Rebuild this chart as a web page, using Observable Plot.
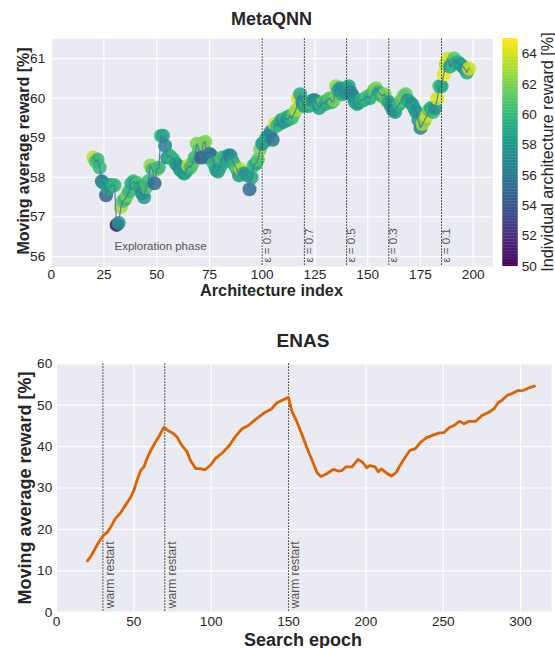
<!DOCTYPE html>
<html>
<head>
<meta charset="utf-8">
<script src="https://cdn.jsdelivr.net/npm/d3@7"></script>
<script src="https://cdn.jsdelivr.net/npm/@observablehq/plot@0.6"></script>
<style>
  body { margin: 0; background: #fff; font-family: "Liberation Sans", Arial, sans-serif; color: #262626; }
  #fig { position: relative; width: 555px; height: 648px; overflow: hidden; }
  #fig svg { position: absolute; overflow: visible; }
  .t { position: absolute; white-space: nowrap; line-height: 1; color: #262626; }
  .c { transform: translate(-50%, -50%); }
  .r { transform: translate(-50%, -50%) rotate(-90deg); }
  .b { font-weight: bold; }
</style>
</head>
<body>
<div id="fig"></div>
<script>
// ---------- MetaQNN: moving average reward per architecture ----------
const archIndex = d3.range(20, 199);
const movingAvg = [
  58.50, 58.40, 58.45, 58.25, 57.90, 57.85, 57.55, 57.70, 57.80, 57.80,
  57.80, 56.80, 56.85, 57.25, 57.40, 57.45, 57.55, 57.65, 57.85, 57.90,
  57.85, 57.85, 57.75, 57.60, 57.50, 57.75, 57.90, 58.30, 58.20, 57.85,
  58.20, 58.25, 59.05, 59.05, 58.80, 58.50, 58.55, 58.50, 58.45, 58.35,
  58.30, 58.20, 58.15, 58.10, 58.15, 58.30, 58.25, 58.35, 58.50, 58.85,
  58.70, 58.50, 58.85, 58.90, 58.50, 58.60, 58.55, 58.35, 58.20, 58.15,
  58.25, 58.50, 58.50, 58.40, 58.55, 58.55, 58.40, 58.30, 58.20, 58.05,
  58.20, 58.10, 58.10, 58.05, 57.70, 58.00, 58.30, 58.35, 58.45, 58.70,
  58.85, 58.90, 59.00, 59.05, 59.15, 58.95, 59.35, 59.30, 59.35, 59.45,
  59.40, 59.50, 59.45, 59.55, 59.50, 59.60, 59.70, 60.00, 60.10, 59.90,
  59.80, 59.85, 59.80, 59.90, 59.95, 59.95, 59.85, 59.75, 59.85, 59.90,
  59.85, 59.95, 60.00, 59.90, 59.95, 60.30, 60.20, 60.25, 60.10, 60.15,
  60.25, 60.30, 60.15, 60.05, 59.90, 59.85, 59.90, 59.95, 59.95, 60.00,
  60.05, 60.00, 60.10, 60.20, 60.25, 60.15, 60.10, 60.05, 60.10, 59.95,
  59.90, 59.80, 59.70, 59.65, 59.80, 59.85, 59.95, 60.05, 60.10, 59.95,
  59.90, 59.85, 59.75, 59.65, 59.45, 59.25, 59.35, 59.45, 59.55, 59.70,
  59.75, 59.65, 59.75, 60.00, 60.30, 60.30, 60.60, 60.85, 61.00, 60.80,
  60.85, 61.00, 60.90, 60.90, 60.85, 60.80, 60.75, 60.65, 60.75
];
const archReward = [
  63.5, 61, 60, 60, 55, 58, 54.5, 59, 58, 59,
  60, 50.5, 58, 63, 61, 60, 62, 60, 59, 60,
  58, 61, 59, 57, 58, 61, 60, 62.5, 60, 55,
  62, 60, 60, 59, 57, 57, 59, 60, 60, 59,
  58, 57, 59, 58, 59, 64, 60, 61, 60, 62,
  61, 54, 62, 62, 56, 56, 56, 60, 59, 58,
  59, 61, 60, 59, 58, 57, 59, 60, 61, 58,
  63.5, 60, 59, 58, 55.5, 59, 60, 59, 61, 62,
  58, 59, 60, 59, 57, 56, 64, 60, 60, 59,
  58, 60, 58, 59, 60, 61, 63, 64, 59, 58,
  58, 60, 59, 61, 58, 57, 59, 58, 60, 61,
  59, 60, 61, 59, 62, 62.5, 59, 58, 59, 58,
  58, 59, 57, 57, 58, 59, 58, 60, 59, 60,
  61, 59, 60, 61, 62, 60, 59, 60, 62, 61,
  59, 58, 57, 58, 59, 60, 61, 62, 61, 59,
  59, 58, 59, 58, 58, 56.5, 63, 62, 64, 61,
  59, 60, 58, 64, 60, 59, 64.5, 63, 64, 59,
  60, 61, 59, 60, 58, 59, 58, 59, 64
];
const epsilonAt = [100, 120, 140, 160, 185];
const epsilonText = ["ε = 0.9", "ε = 0.7", "ε = 0.5", "ε = 0.3", "ε = 0.1"];
const metaXTicks = [0, 25, 50, 75, 100, 125, 150, 175, 200];
const metaYTicks = [56, 57, 58, 59, 60, 61];
const rewardTicks = [50, 52, 54, 56, 58, 60, 62, 64];
const exploreNote = { x: 30, y: 56.25, text: "Exploration phase" };

// ---------- ENAS: moving average reward per search epoch ----------
const enasEpoch = [
  20, 22, 25, 27.5, 30, 33, 35, 38, 41, 44.5, 48, 50, 52, 54.5, 56.5, 58.5, 61, 64, 66, 69.5,
  72, 75, 78, 81, 84.5, 86.5, 90, 93, 96, 99.5, 103, 107, 112, 115.5, 120, 124, 128.5, 135, 139, 142.5,
  147, 150, 152, 155.5, 158.5, 162, 165, 168.5, 171, 175, 179, 182, 184.5, 187, 191, 195, 198, 200.5, 202.5, 206,
  208, 210, 213, 216.5, 219.5, 222, 225, 228.5, 232, 235.5, 239, 243, 247.5, 250.5, 254, 257, 260.5, 263.5, 266.5, 271,
  275, 279.5, 283, 285.5, 288, 291.5, 294.5, 298, 302, 305.5, 309
];
const enasReward = [
  12.4, 13.4, 15.4, 17.0, 18.4, 19.4, 20.5, 22.6, 23.8, 25.8, 27.8, 29.4, 31.8, 34.3, 35.1, 37.1, 39.1, 41.1, 42.3, 44.7,
  43.9, 43.3, 42.3, 40.3, 38.7, 36.7, 34.7, 34.7, 34.4, 35.5, 37.2, 38.4, 40.4, 42.4, 44.3, 45.1, 46.5, 48.3, 49.1, 50.6,
  51.4, 51.9, 48.7, 45.9, 43.1, 39.6, 36.9, 33.7, 32.8, 33.5, 34.5, 34.1, 34.2, 35.1, 35.1, 36.9, 36.2, 34.9, 35.4, 35.1,
  33.9, 34.6, 33.7, 32.9, 33.7, 35.4, 37.2, 39.1, 39.5, 41.1, 42.1, 42.7, 43.3, 43.4, 44.6, 45.1, 46.1, 45.5, 46.1, 46.1,
  47.5, 48.3, 49.2, 50.6, 51.2, 52.4, 52.8, 53.5, 53.6, 54.2, 54.6
];
const restartAt = [30, 70, 150];
const enasXTicks = [0, 50, 100, 150, 200, 250, 300];
const enasYTicks = [0, 10, 20, 30, 40, 50, 60];

// ---------- shared styling ----------
const bg = "#eaeaf2";
const baseStyle = {
  fontFamily: "'Liberation Sans', Arial, sans-serif",
  fontSize: "13.6px",
  color: "#262626",
  background: "transparent",
  overflow: "visible"
};
const viridis = { type: "linear", scheme: "viridis", domain: [50, 65] };

const meta = archIndex.map((x, i) => ({ index: x, avg: movingAvg[i], reward: archReward[i] }));
const enas = enasEpoch.map((e, i) => ({ epoch: e, avg: enasReward[i] }));
const epsilon = epsilonAt.map((x, i) => ({ x, label: epsilonText[i] }));

const fig = document.getElementById("fig");

function place(svg, left, top) {
  svg.style.left = left + "px";
  svg.style.top = top + "px";
  fig.appendChild(svg);
}

function label(text, x, y, size, cls) {
  const d = document.createElement("div");
  d.className = "t " + cls;
  d.textContent = text;
  d.style.left = x + "px";
  d.style.top = y + "px";
  d.style.fontSize = size + "px";
  fig.appendChild(d);
}

// MetaQNN panel
const metaPlot = Plot.plot({
  width: 500, height: 300,
  marginLeft: 50.7, marginRight: 7.7, marginTop: 38.3, marginBottom: 34,
  x: { domain: [0, 209.3] },
  y: { domain: [55.75, 61.5] },
  color: viridis,
  style: baseStyle,
  marks: [
    Plot.frame({ fill: bg, stroke: "none" }),
    Plot.gridX(metaXTicks, { stroke: "#fff", strokeOpacity: 1, strokeWidth: 1.2 }),
    Plot.gridY(metaYTicks, { stroke: "#fff", strokeOpacity: 1, strokeWidth: 1.2 }),
    Plot.axisX(metaXTicks, { tickSize: 0, tickPadding: 3, label: null }),
    Plot.axisY(metaYTicks, { tickSize: 0, tickPadding: 6, label: null }),
    Plot.dot(meta, { x: "index", y: "avg", fill: "reward", r: 7, fillOpacity: 0.85, stroke: "none" }),
    Plot.line(meta, { x: "index", y: "avg", stroke: "#4c72b0", strokeWidth: 1.2, strokeOpacity: 0.9 }),
    Plot.ruleX(epsilonAt, { stroke: "#333", strokeWidth: 1, strokeDasharray: "1.6,1.4" }),
    Plot.text(epsilon, {
      x: "x", text: "label", frameAnchor: "bottom", rotate: -90,
      textAnchor: "start", lineAnchor: "middle", dx: 5, dy: -4,
      fill: "#555", fontSize: 11.5
    }),
    Plot.text([exploreNote], {
      x: "x", y: "y", text: "text", textAnchor: "start",
      fill: "#555", fontSize: 11.5
    })
  ]
});
place(metaPlot, 0, 0);

// Colour bar for individual architecture reward
const rampStep = 0.1;
const ramp = d3.range(50, 65, rampStep);
const cbar = Plot.plot({
  width: 55, height: 300,
  marginLeft: 2.3, marginRight: 37.3, marginTop: 38.3, marginBottom: 34,
  x: { domain: [0, 1], axis: null },
  y: { domain: [50, 65] },
  color: viridis,
  style: baseStyle,
  marks: [
    Plot.rect(ramp, { x1: () => 0, x2: () => 1, y1: d => d, y2: d => d + rampStep + 0.02, fill: d => d + rampStep / 2 }),
    Plot.axisY(rewardTicks, { anchor: "right", tickSize: 0, tickPadding: 3.5, label: null })
  ]
});
place(cbar, 500, 0);

// ENAS panel
const enasPlot = Plot.plot({
  width: 555, height: 328,
  marginLeft: 56, marginRight: 4, marginTop: 43.3, marginBottom: 36.3,
  x: { domain: [0, 320] },
  y: { domain: [0, 60] },
  style: baseStyle,
  marks: [
    Plot.frame({ fill: bg, stroke: "none" }),
    Plot.gridX(enasXTicks, { stroke: "#fff", strokeOpacity: 1, strokeWidth: 1.2 }),
    Plot.gridY(enasYTicks, { stroke: "#fff", strokeOpacity: 1, strokeWidth: 1.2 }),
    Plot.axisX(enasXTicks, { tickSize: 0, tickPadding: 4, label: null }),
    Plot.axisY(enasYTicks, { tickSize: 0, tickPadding: 4.3, label: null }),
    Plot.ruleX(restartAt, { stroke: "#333", strokeWidth: 1, strokeDasharray: "1.6,1.4" }),
    Plot.text(restartAt, {
      x: d => d, text: () => "warm restart", frameAnchor: "bottom", rotate: -90,
      textAnchor: "start", lineAnchor: "middle", dx: 7, dy: -4,
      fill: "#555", fontSize: 12
    }),
    Plot.line(enas, { x: "epoch", y: "avg", stroke: "#dd6200", strokeWidth: 2.8, strokeLinejoin: "round" })
  ]
});
place(enasPlot, 0, 320);

// Titles and axis labels
label("MetaQNN", 271.5, 19, 18, "c b");
label("Architecture index", 271.5, 290, 16.3, "c b");
label("Moving average reward [%]", 24, 151, 16, "r b");
label("Individual architecture reward [%]", 546.5, 152, 16.2, "r");
label("ENAS", 303, 340, 19, "c b");
label("Search epoch", 303, 639.5, 18, "c b");
label("Moving average reward [%]", 25, 488, 18, "r b");
</script>
</body>
</html>
